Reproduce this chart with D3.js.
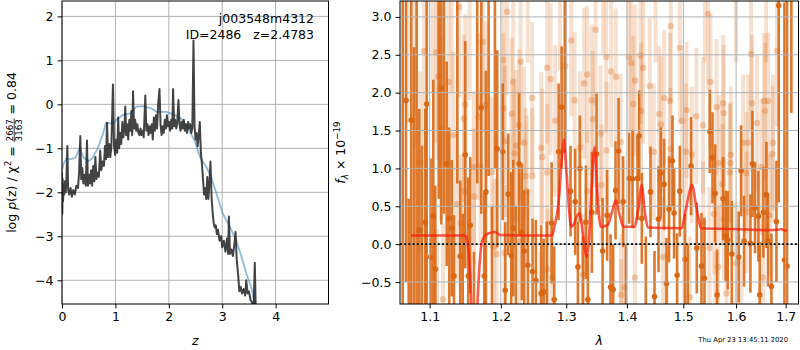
<!DOCTYPE html>
<html><head><meta charset="utf-8">
<script src="https://cdn.jsdelivr.net/npm/d3@7"></script>
<style>body{margin:0;background:#fff} text{font-family:"DejaVu Sans",sans-serif}</style>
</head><body><svg id="c" width="800" height="350" xmlns="http://www.w3.org/2000/svg"></svg>
<script>
// ---------- Left panel data: log p(z) ----------
const zTicks = [0, 1, 2, 3, 4];
const lpTicks = [-4, -3, -2, -1, 0, 1, 2];
const zBlack = [0.000,0.006,0.012,0.020,0.030,0.040,0.055,0.070,0.085,0.100,0.115,0.135,0.160,0.185,0.210,0.240,0.270,0.300,0.320,0.343,0.360,0.380,0.400,0.420,0.445,0.468,0.485,0.505,0.525,0.545,0.565,0.585,0.605,0.625,0.645,0.665,0.690,0.715,0.735,0.760,0.785,0.805,0.825,0.843,0.862,0.885,0.905,0.925,0.954,0.975,0.995,1.015,1.035,1.052,1.070,1.090,1.110,1.130,1.150,1.170,1.185,1.200,1.220,1.240,1.260,1.280,1.300,1.315,1.330,1.350,1.370,1.390,1.410,1.430,1.450,1.470,1.490,1.510,1.530,1.560,1.580,1.600,1.620,1.640,1.660,1.680,1.700,1.720,1.740,1.760,1.780,1.800,1.825,1.845,1.865,1.885,1.905,1.925,1.945,1.965,1.985,2.005,2.025,2.045,2.065,2.080,2.100,2.120,2.140,2.160,2.180,2.200,2.220,2.240,2.260,2.280,2.300,2.320,2.340,2.360,2.380,2.400,2.420,2.440,2.462,2.482,2.500,2.520,2.540,2.560,2.580,2.600,2.620,2.640,2.660,2.680,2.700,2.720,2.740,2.760,2.780,2.800,2.820,2.840,2.860,2.880,2.900,2.920,2.950,2.980,3.000,3.030,3.060,3.090,3.110,3.125,3.145,3.170,3.200,3.230,3.250,3.270,3.300,3.320,3.345,3.370,3.400,3.430,3.450,3.475,3.500,3.530,3.560,3.585,3.610,3.630];
const lpBlack = [-1.55,-2.48,-1.70,-2.20,-1.85,-2.05,-1.75,-2.00,-1.65,-0.95,-1.95,-2.05,-1.90,-2.10,-1.95,-2.05,-1.85,-1.90,-1.55,-0.72,-1.70,-1.45,-1.80,-1.60,-1.85,-0.82,-1.85,-1.60,-1.80,-1.50,-1.85,-1.40,-1.75,-1.20,-1.70,-1.55,-1.65,-1.05,-1.50,-1.30,-1.40,-0.95,-1.25,-0.42,-1.20,-0.90,-1.20,-0.95,0.45,-0.95,-1.15,-0.80,-1.10,-0.30,-1.00,-0.65,-0.90,-0.40,-0.75,-0.50,-0.05,-0.70,-0.45,-0.80,-0.35,-0.60,-0.15,-0.70,0.30,-0.55,-0.35,-0.60,-0.45,-0.65,-0.70,-0.55,-0.70,-0.60,-0.75,0.20,-0.60,-0.45,-0.70,-0.50,-0.65,-0.45,-0.80,-0.30,-0.60,-0.25,-0.55,0.00,0.35,-0.45,-0.70,-0.50,-0.65,-0.35,-0.55,-0.25,-0.50,-0.40,-0.60,-0.35,-0.55,0.35,-0.50,-0.35,-0.55,-0.40,0.10,-0.45,-0.60,-0.40,-0.55,-0.35,-0.60,-0.45,-0.65,-0.40,-0.55,-0.45,-0.65,-0.55,1.45,-0.50,-0.80,-0.65,-0.95,-0.70,-0.40,-1.10,-1.35,-1.70,-2.05,-1.90,-2.15,-1.65,-2.15,-1.80,-1.30,-2.10,-2.45,-2.70,-2.80,-2.75,-2.95,-2.85,-3.10,-3.00,-3.25,-3.10,-3.35,-3.05,-3.40,-2.55,-3.40,-3.30,-3.45,-3.15,-2.90,-3.50,-3.90,-4.25,-4.15,-4.30,-4.20,-4.35,-4.00,-4.30,-4.25,-4.45,-4.50,-4.75,-3.60,-4.80];
const zBlue = [0.00,0.03,0.08,0.15,0.25,0.33,0.40,0.49,0.57,0.67,0.77,0.82,0.90,0.95,1.02,1.14,1.30,1.39,1.52,1.67,1.77,1.95,2.11,2.23,2.36,2.48,2.58,2.70,2.79,2.89,3.01,3.14,3.26,3.36,3.45,3.54,3.61,3.65];
const lpBlue = [-1.50,-1.35,-1.23,-1.25,-1.22,-1.00,-1.20,-1.30,-1.22,-1.00,-0.66,-0.43,-0.43,-0.45,-0.35,-0.24,-0.20,-0.05,-0.04,-0.09,-0.17,-0.17,-0.24,-0.32,-0.55,-0.81,-1.19,-1.42,-1.64,-2.02,-2.48,-2.78,-3.08,-3.46,-3.84,-4.14,-4.52,-4.75];

// ---------- Right panel data: spectrum ----------
const lamTicks = [1.1, 1.2, 1.3, 1.4, 1.5, 1.6, 1.7];
const fTicks = [-0.5, 0.0, 0.5, 1.0, 1.5, 2.0, 2.5, 3.0];
const darkWave = [1.0643,1.0686,1.0721,1.0755,1.0791,1.0826,1.0861,1.0897,1.0941,1.0960,1.1013,1.1049,1.1076,1.1122,1.1157,1.1194,1.1231,1.1266,1.1300,1.1332,1.1378,1.1419,1.1453,1.1489,1.1531,1.1559,1.1612,1.1659,1.1716,1.1759,1.1783,1.1822,1.1870,1.1914,1.1947,
 1.2027,1.2065,1.2109,1.2153,1.2183,1.2223,1.2272,1.2313,1.2348,1.2404,1.2475,1.2526,1.2607,1.2644,1.2695,1.2769,1.2810,1.2879,1.2926,1.2978,1.3068,1.3142,1.3186,1.3218,1.3267,1.3315,1.3348,1.3413,1.3490,
 1.3590,1.3666,1.3723,1.3767,1.3807,1.3858,1.3936,1.3983,1.4039,1.4097,1.4183,1.4211,1.4258,1.4328,1.4410,1.4481,1.4552,1.4593,1.4652,1.4695,1.4741,1.4803,1.4832,1.4887,1.4936,1.5033,1.5082,1.5143,1.5249,
 1.5337,1.5393,1.5493,1.5545,1.5595,1.5633,1.5748,1.5799,1.5838,1.5916,1.6052,1.6098,1.6157,1.6283,1.6323,1.6375,1.6443,1.6469,1.6544,1.6605,1.6638,1.6707,1.6809,1.6856,1.6974,1.7028,1.7119];
const darkFlux = [3.6,1.9,-0.9,1.64,-1.0,3.6,0.185,-1.0,0.29,1.85,-0.17,0.37,-0.33,3.4,2.06,3.5,1.06,0.34,0.21,-0.42,3.4,-0.16,-1.2,1.18,-0.42,0.25,-1.1,3.3,1.80,-0.42,0.69,3.4,-1.0,3.3,1.26,
 1.22,-0.61,0.66,-0.15,0.21,-1.1,1.06,0.16,-0.09,-0.28,-0.36,-0.48,-0.65,-0.63,-1.0,0.28,-0.73,1.22,1.81,3.4,0.70,0.56,-0.30,1.00,-1.0,0.29,-0.73,0.42,1.19,
 -0.09,0.38,-0.57,-0.60,0.71,1.23,0.56,-1.0,0.87,0.86,0.87,1.43,0.34,-1.0,0.69,-0.69,0.33,0.94,0.79,-0.52,0.46,1.10,0.41,-0.41,0.70,-0.20,-1.0,1.03,-0.05,
 -0.29,-0.45,1.49,1.14,0.67,-0.67,0.60,0.11,0.05,-0.13,-0.17,0.97,0.04,0.01,1.06,0.48,0.37,-0.67,0.42,0.65,0.04,-0.56,0.30,3.15,-0.21,-0.29,3.8];
const darkErr = [4.4,2.4,1.5,2.6,3.6,4.4,1.6,2.3,1.5,2.7,1.3,1.8,1.1,2.8,1.8,3.1,1.35,1.2,0.9,0.8,2.6,1.0,1.6,1.5,1.3,0.9,1.0,2.5,1.4,1.1,1.6,2.5,1.5,2.3,1.3,
 0.9,0.9,0.8,1.1,0.9,1.6,0.95,0.9,0.8,1.0,0.7,0.8,0.9,0.7,1.3,0.8,0.7,0.9,0.8,2.2,0.6,0.7,0.6,0.7,1.1,0.75,0.6,0.8,0.8,
 0.7,0.6,0.7,0.6,0.65,0.7,0.6,1.0,0.6,0.65,0.55,0.6,0.6,1.1,0.6,0.6,0.7,0.6,0.6,0.6,0.7,0.6,0.6,0.55,0.6,0.6,1.0,0.65,0.6,
 0.7,0.8,0.55,0.6,0.65,0.6,0.55,0.6,0.65,0.7,0.6,0.6,0.6,0.65,0.7,0.6,0.6,0.7,0.6,0.7,0.6,0.7,0.8,2.6,3.4,3.5,2.07];
const lightWave = [1.0700,1.0800,1.0874,1.0924,1.1040,1.1085,1.1100,1.1116,1.1157,1.1180,
 1.1258,1.1300,1.1322,1.1377,1.1405,1.1429,1.1471,1.1475,1.1489,1.1550,
 1.1612,1.1615,1.1673,1.1707,1.1736,1.1779,1.1870,1.1899,1.1939,1.2036,
 1.2038,1.2056,1.2061,1.2094,1.2159,1.2183,1.2203,1.2227,1.2272,1.2283,
 1.2294,1.2348,1.2369,1.2384,1.2400,1.2469,1.2470,1.2600,1.2607,1.2623,
 1.2700,1.2701,1.2706,1.2753,1.2778,1.2825,1.2900,1.2983,1.3078,1.3133,
 1.3218,1.3271,1.3288,1.3337,1.3338,1.3408,1.3430,1.3474,1.3557,1.3573,
 1.3600,1.3650,1.3656,1.3733,1.3812,1.3892,1.3900,1.3902,1.3960,1.4034,
 1.4073,1.4108,1.4137,1.4142,1.4235,1.4246,1.4281,1.4398,1.4469,1.4500,
 1.4562,1.4593,1.4634,1.4652,1.4700,1.4759,1.4767,1.4772,1.4936,1.4978,
 1.5047,1.5060,1.5119,1.5156,1.5243,1.5367,1.5368,1.5400,1.5461,1.5487,
 1.5506,1.5575,1.5600,1.5621,1.5652,1.5671,1.5736,1.5748,1.5761,1.5762,
 1.5813,1.5877,1.5891,1.5897,1.6000,1.6007,1.6100,1.6137,1.6204,1.6205,
 1.6236,1.6295,1.6315,1.6415,1.6504,1.6536,1.6557,1.6577,1.6600,1.6638,
 1.6672,1.6727,1.6740,1.6821,1.7000];
const lightFlux = [3.6,3.5,1.08,2.55,3.6,2.53,-1.1,2.21,1.53,-0.73,
 2.14,3.5,1.44,0.53,3.13,0.28,1.66,0.70,1.84,3.5,
 1.02,0.63,1.68,1.03,2.67,1.84,0.95,-0.04,-0.13,2.43,
 1.79,-0.12,1.36,3.07,1.72,2.14,1.20,1.30,1.57,0.04,
 2.41,1.34,0.90,0.70,3.4,1.93,0.90,-1.1,1.27,1.15,
 2.33,0.95,-0.33,2.18,-0.44,1.63,3.4,2.35,2.69,1.90,
 1.28,-0.40,2.12,2.24,0.70,1.90,1.65,2.83,1.46,0.78,
 3.5,2.47,1.24,2.28,2.21,1.35,-1.2,-0.67,-0.57,2.47,
 2.39,1.85,-0.44,2.16,2.49,1.76,2.33,2.09,1.22,3.4,
 1.72,1.58,-0.17,1.93,-1.0,1.89,1.26,2.88,2.59,1.63,
 1.22,1.77,-0.70,1.18,1.69,1.57,0.29,3.4,3.04,-0.05,
 2.14,0.40,-1.1,1.81,-0.30,1.07,0.79,1.86,1.73,0.33,
 -0.65,0.95,1.07,1.18,3.5,-0.25,-1.1,1.34,0.94,0.42,
 1.34,2.51,1.86,1.60,1.02,-0.44,1.89,1.76,3.4,1.89,
 0.38,1.19,1.34,2.55,3.4];
const lightErr = [2.0,2.2,1.2,1.3,1.6,1.2,1.3,1.1,1.2,1.0,
 1.2,1.5,1.1,1.0,1.2,0.9,1.1,1.0,1.2,1.6,
 1.0,0.9,1.1,1.0,1.2,1.1,1.0,0.9,1.0,1.1,
 1.0,0.9,1.0,1.1,1.0,1.1,0.9,1.0,1.0,0.9,
 1.1,1.0,0.9,1.0,1.0,1.0,0.9,1.0,1.0,0.9,
 1.0,0.9,0.8,1.0,0.8,1.0,1.1,1.0,1.0,0.9,
 1.0,0.8,1.0,0.9,0.8,1.0,0.9,1.0,0.9,0.8,
 1.0,1.0,0.9,1.0,0.9,0.9,1.0,0.8,0.8,1.0,
 0.9,0.9,0.8,1.0,0.9,0.9,1.0,0.9,0.9,1.0,
 0.9,0.9,0.8,0.9,0.9,0.9,0.8,1.0,1.0,0.9,
 0.9,0.9,0.8,0.9,0.9,0.9,0.8,1.0,1.0,0.8,
 0.9,0.8,1.0,0.9,0.8,0.9,0.8,0.9,0.9,0.8,
 0.8,0.9,0.8,0.9,1.1,0.8,0.9,0.9,0.8,0.8,
 0.9,1.0,0.9,0.9,0.9,0.8,0.9,0.9,1.0,0.9,
 0.8,0.9,0.9,1.0,1.2];
const modelWave = [1.0752,1.1464,1.1500,1.1535,1.1560,1.1583,1.1616,1.1650,1.1680,1.1720,1.1760,1.1817,1.1914,1.1993,1.2400,1.2777,1.2813,1.2882,1.2935,1.2961,1.2990,1.3016,1.3050,1.3080,1.3120,1.3177,1.3214,1.3258,1.3311,1.3327,1.3365,1.3421,1.3459,1.3504,1.3559,1.3671,1.3756,1.3812,1.3868,1.3943,1.4126,1.4196,1.4255,1.4313,1.4371,1.4963,1.5055,1.5161,1.5241,1.5335,1.5967,1.6636,1.6850,1.6910,1.6960,1.7028];
const modelFlux = [0.115,0.115,0.10,-0.08,-0.45,-0.95,-1.40,-1.00,-0.45,0.01,0.10,0.14,0.16,0.12,0.115,0.115,0.23,0.58,1.20,1.38,1.10,0.80,0.40,0.23,0.26,0.38,0.41,0.19,-0.12,-0.17,0.05,0.94,1.28,0.67,0.23,0.25,0.45,0.58,0.41,0.23,0.23,0.45,0.78,0.41,0.22,0.21,0.49,0.78,0.49,0.21,0.20,0.185,0.19,0.20,0.185,0.175];

const annotLines = ["j003548m4312", "ID=2486   z=2.4783"];
const stamp = "Thu Apr 23 13:45:11 2020";

// ---------- drawing ----------
const svg = d3.select("#c");
const FS = 12.5;
const GRID = "#b0b0b0";

function zip(a, b) { return a.map((v, i) => [v, b[i]]); }

// Left panel
const L = {x0: 62, x1: 328.5, y0: 1, y1: 304};
const xL = d3.scaleLinear().domain([0, 4.99]).range([L.x0, L.x1]);
const yL = d3.scaleLinear().domain([-4.54, 2.35]).range([L.y1, L.y0]);

svg.append("clipPath").attr("id", "clipL").append("rect")
  .attr("x", L.x0).attr("y", L.y0).attr("width", L.x1 - L.x0).attr("height", L.y1 - L.y0);

const gridL = svg.append("g").attr("stroke", GRID).attr("stroke-width", 1);
zTicks.forEach(t => gridL.append("line").attr("x1", xL(t)).attr("x2", xL(t)).attr("y1", L.y0).attr("y2", L.y1));
lpTicks.forEach(t => gridL.append("line").attr("y1", yL(t)).attr("y2", yL(t)).attr("x1", L.x0).attr("x2", L.x1));

const pL = svg.append("g").attr("clip-path", "url(#clipL)");
pL.append("path").datum(zip(zBlue, lpBlue))
  .attr("d", d3.line().x(d => xL(d[0])).y(d => yL(d[1])))
  .attr("fill", "none").attr("stroke", "#1f77b4").attr("stroke-opacity", 0.5).attr("stroke-width", 1.8);
pL.append("path").datum(zip(zBlack, lpBlack))
  .attr("d", d3.line().x(d => xL(d[0])).y(d => yL(d[1])))
  .attr("fill", "none").attr("stroke", "#222").attr("stroke-opacity", 0.85).attr("stroke-width", 2).attr("stroke-linejoin", "round");

function styleAxis(g) {
  g.select(".domain").remove();
  g.selectAll(".tick line").attr("stroke", "#000").attr("stroke-width", 1);
  g.selectAll(".tick text").attr("fill", "#000").attr("font-size", FS).attr("font-family", "DejaVu Sans");
}
svg.append("g").attr("transform", `translate(0,${L.y1})`)
  .call(d3.axisBottom(xL).tickValues(zTicks).tickSize(4.4).tickPadding(4.2).tickFormat(d3.format("d"))).call(styleAxis);
svg.append("g").attr("transform", `translate(${L.x0},0)`)
  .call(d3.axisLeft(yL).tickValues(lpTicks).tickSize(4.4).tickPadding(4.2).tickFormat(d3.format("d"))).call(styleAxis);
svg.append("rect").attr("x", L.x0).attr("y", L.y0).attr("width", L.x1 - L.x0).attr("height", L.y1 - L.y0)
  .attr("fill", "none").attr("stroke", "#000").attr("stroke-width", 1);

svg.append("text").attr("x", 314).attr("y", 23).attr("text-anchor", "end").attr("font-size", FS).text(annotLines[0]);
svg.append("text").attr("x", 314).attr("y", 38.5).attr("text-anchor", "end").attr("font-size", FS).attr("xml:space", "preserve").style("white-space", "pre").text(annotLines[1]);

svg.append("text").attr("x", (L.x0 + L.x1) / 2).attr("y", 345).attr("text-anchor", "middle")
  .attr("font-size", FS).attr("font-style", "italic").text("z");

// left y label (rotated), with stacked fraction
{
  const g = svg.append("g").attr("transform", "translate(16,152.5) rotate(-90)");
  const inner = g.append("g");
  const t1 = inner.append("text").attr("font-size", FS).attr("xml:space", "preserve").style("white-space", "pre");
  t1.append("tspan").text("log ");
  t1.append("tspan").attr("font-style", "italic").text("p");
  t1.append("tspan").text("(z) / χ");
  t1.append("tspan").attr("font-size", FS * 0.7).attr("dy", -5).text("2");
  t1.append("tspan").attr("dy", 5).text(" = ");
  const w1 = t1.node().getComputedTextLength();
  const ffs = FS * 0.7;
  const num = inner.append("text").attr("font-size", ffs).attr("text-anchor", "middle").text("2667");
  const den = inner.append("text").attr("font-size", ffs).attr("text-anchor", "middle").text("3163");
  const wf = Math.max(num.node().getComputedTextLength(), den.node().getComputedTextLength()) + 1.5;
  const cx = w1 + wf / 2;
  num.attr("x", cx).attr("y", -3.2);
  den.attr("x", cx).attr("y", 5.8);
  inner.append("line").attr("x1", w1).attr("x2", w1 + wf).attr("y1", -1.8).attr("y2", -1.8)
    .attr("stroke", "#000").attr("stroke-width", 0.8);
  const t3 = inner.append("text").attr("font-size", FS).attr("x", w1 + wf).attr("xml:space", "preserve").style("white-space", "pre").text(" = 0.84");
  const W = w1 + wf + t3.node().getComputedTextLength();
  inner.attr("transform", `translate(${-W / 2},0)`);
}

// Right panel
const R = {x0: 400, x1: 798.5, y0: 1, y1: 304};
const xR = d3.scaleLog().domain([1.0608, 1.7269]).range([R.x0, R.x1]);
const yR = d3.scaleLinear().domain([-0.79, 3.21]).range([R.y1, R.y0]);

svg.append("clipPath").attr("id", "clipR").append("rect")
  .attr("x", R.x0).attr("y", R.y0).attr("width", R.x1 - R.x0).attr("height", R.y1 - R.y0);

const pR = svg.append("g").attr("clip-path", "url(#clipR)");
const ORANGE = "#d96510";
const lightG = pR.append("g");
lightWave.forEach((w, i) => {
  lightG.append("line").attr("x1", xR(w)).attr("x2", xR(w))
    .attr("y1", yR(lightFlux[i] - lightErr[i])).attr("y2", yR(lightFlux[i] + lightErr[i]))
    .attr("stroke", ORANGE).attr("stroke-opacity", 0.2).attr("stroke-width", 4);
});
lightWave.forEach((w, i) => {
  lightG.append("circle").attr("cx", xR(w)).attr("cy", yR(lightFlux[i])).attr("r", 3.2)
    .attr("fill", ORANGE).attr("fill-opacity", 0.3);
});
const darkG = pR.append("g");
darkWave.forEach((w, i) => {
  darkG.append("line").attr("x1", xR(w)).attr("x2", xR(w))
    .attr("y1", yR(darkFlux[i] - darkErr[i])).attr("y2", yR(darkFlux[i] + darkErr[i]))
    .attr("stroke", ORANGE).attr("stroke-opacity", 0.88).attr("stroke-width", 2.6);
  darkG.append("circle").attr("cx", xR(w)).attr("cy", yR(darkFlux[i])).attr("r", 2.8)
    .attr("fill", ORANGE).attr("fill-opacity", 0.95);
});

const gridR = svg.append("g").attr("stroke", GRID).attr("stroke-width", 1);
lamTicks.forEach(t => gridR.append("line").attr("x1", xR(t)).attr("x2", xR(t)).attr("y1", R.y0).attr("y2", R.y1));
fTicks.forEach(t => gridR.append("line").attr("y1", yR(t)).attr("y2", yR(t)).attr("x1", R.x0).attr("x2", R.x1));

const pR2 = svg.append("g").attr("clip-path", "url(#clipR)");
pR2.append("line").attr("x1", R.x0).attr("x2", R.x1).attr("y1", yR(0)).attr("y2", yR(0))
  .attr("stroke", "#000").attr("stroke-width", 1.6).attr("stroke-dasharray", "2,2.2");
pR2.append("path").datum(zip(modelWave, modelFlux))
  .attr("d", d3.line().curve(d3.curveMonotoneX).x(d => xR(d[0])).y(d => yR(d[1])))
  .attr("fill", "none").attr("stroke", "#ff1a0a").attr("stroke-opacity", 0.72).attr("stroke-width", 2.6)
  .attr("stroke-linejoin", "round");

svg.append("g").attr("transform", `translate(0,${R.y1})`)
  .call(d3.axisBottom(xR).tickValues(lamTicks).tickSize(4.4).tickPadding(4.2).tickFormat(d3.format(".1f"))).call(styleAxis);
svg.append("g").attr("transform", `translate(${R.x0},0)`)
  .call(d3.axisLeft(yR).tickValues(fTicks).tickSize(4.4).tickPadding(4.2).tickFormat(d3.format(".1f"))).call(styleAxis);
svg.append("rect").attr("x", R.x0).attr("y", R.y0).attr("width", R.x1 - R.x0).attr("height", R.y1 - R.y0)
  .attr("fill", "none").attr("stroke", "#000").attr("stroke-width", 1);

svg.append("text").attr("x", (R.x0 + R.x1) / 2).attr("y", 345).attr("text-anchor", "middle")
  .attr("font-size", FS).attr("font-style", "italic").text("λ");

{
  const g = svg.append("g").attr("transform", "translate(345,152.5) rotate(-90)");
  const t = g.append("text").attr("font-size", FS).attr("text-anchor", "middle").attr("xml:space", "preserve").style("white-space", "pre");
  t.append("tspan").attr("font-style", "italic").text("f");
  t.append("tspan").attr("font-style", "italic").attr("font-size", FS * 0.7).attr("dy", 3).text("λ");
  t.append("tspan").attr("dy", -3).text(" × 10");
  t.append("tspan").attr("font-size", FS * 0.7).attr("dy", -5).text("−19");
}

svg.append("text").attr("x", 788).attr("y", 342).attr("text-anchor", "end").attr("font-size", 6.8).text(stamp);
</script></body></html>
